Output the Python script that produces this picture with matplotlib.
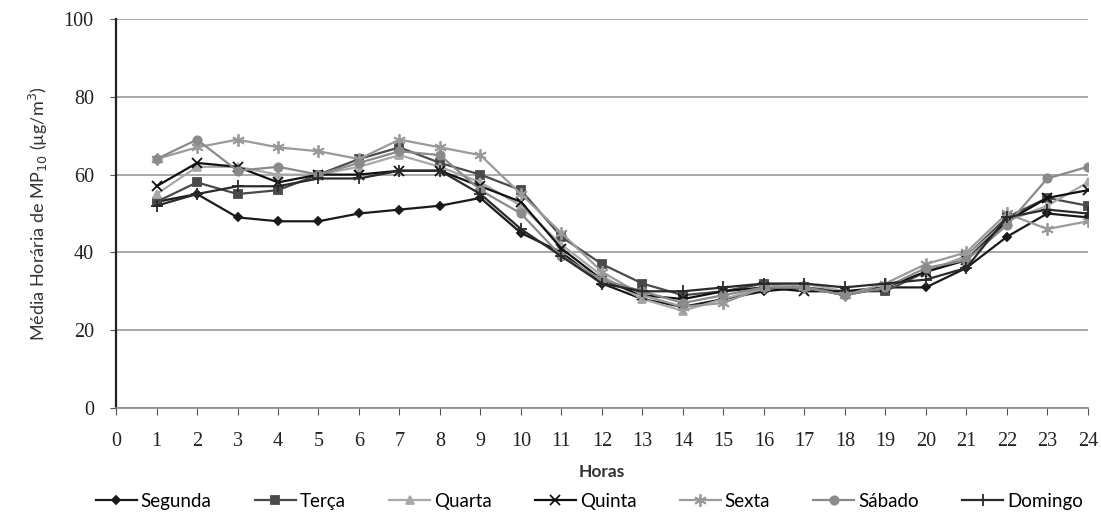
import numpy as np
from matplotlib import pyplot as plt

# Media horaria de MP10 por dia da semana
horas = list(range(1, 25))

segunda = [53, 55, 49, 48, 48, 50, 51, 52, 54, 45, 40, 32, 28, 26, 28, 30, 31, 29, 31, 31, 36, 44, 50, 49]
terca = [53, 58, 55, 56, 60, 64, 67, 63, 60, 56, 44, 37, 32, 29, 30, 32, 31, 30, 30, 35, 39, 49, 54, 52]
quarta = [55, 62, 62, 60, 60, 62, 65, 62, 58, 52, 42, 34, 28, 25, 28, 31, 32, 30, 31, 35, 39, 48, 52, 58]
quinta = [57, 63, 62, 58, 60, 60, 61, 61, 57, 53, 41, 33, 29, 28, 30, 31, 30, 30, 31, 35, 38, 48, 54, 56]
sexta = [64, 67, 69, 67, 66, 64, 69, 67, 65, 55, 45, 35, 29, 26, 27, 31, 31, 29, 32, 37, 40, 50, 46, 48]
sabado = [64, 69, 61, 62, 60, 63, 66, 65, 56, 50, 39, 33, 30, 27, 29, 31, 31, 29, 31, 36, 38, 47, 59, 62]
domingo = [52, 55, 57, 57, 59, 59, 61, 61, 55, 46, 39, 32, 30, 30, 31, 32, 32, 31, 32, 33, 36, 49, 51, 50]

series = [
    ('Segunda', segunda, '#1a1a1a', 'D', 4.5),
    ('Terça', terca, '#4a4a4a', 's', 5.5),
    ('Quarta', quarta, '#a8a8a8', '^', 6),
    ('Quinta', quinta, '#111111', 'x', 6.5),
    ('Sexta', sexta, '#9a9a9a', (6, 2, 0), 9),
    ('Sábado', sabado, '#8a8a8a', 'o', 6),
    ('Domingo', domingo, '#2a2a2a', '+', 9),
]

plt.rcParams['font.family'] = ['Lato', 'DejaVu Sans']

fig = plt.figure(figsize=(11.01, 5.22), dpi=100)
ax = fig.add_axes([0.1054, 0.2184, 0.8826, 0.7452])

for nome, vals, cor, marc, tam in series:
    ax.plot(horas, vals, color=cor, marker=marc, markersize=tam, linewidth=1.6,
            markeredgewidth=1.3, label=nome)

ax.set_xlim(0, 24)
ax.set_ylim(0, 100)
ax.set_xticks(range(0, 25))
ax.set_yticks(range(0, 101, 20))
ax.yaxis.grid(True, color='#9a9a9a', linewidth=1.2)
ax.set_axisbelow(True)

for lado in ['top', 'right']:
    ax.spines[lado].set_visible(False)
ax.spines['left'].set_color('#222222')
ax.spines['left'].set_linewidth(1.6)
ax.spines['bottom'].set_color('#888888')
ax.spines['bottom'].set_linewidth(1.2)

ax.tick_params(axis='x', direction='out', length=5, color='#555555', pad=12)
ax.tick_params(axis='y', direction='out', length=4, color='#555555', pad=12)
for t in ax.get_xticklabels() + ax.get_yticklabels():
    t.set_fontfamily('Liberation Serif')
    t.set_fontsize(14.5)
    t.set_color('#222222')

ax.set_xlabel('Horas', fontsize=12.5, fontweight='bold', color='#333333', labelpad=10)
ax.set_ylabel('Média Horária de MP$_{10}$ (µg/m$^3$)', fontsize=13, color='#333333', labelpad=10)

ax.legend(loc='upper center', bbox_to_anchor=(0.487, -0.175), ncol=7, frameon=False,
          fontsize=13.5, handlelength=2.2, handletextpad=0.2, columnspacing=2.3)

plt.savefig('out.png', dpi=100)
